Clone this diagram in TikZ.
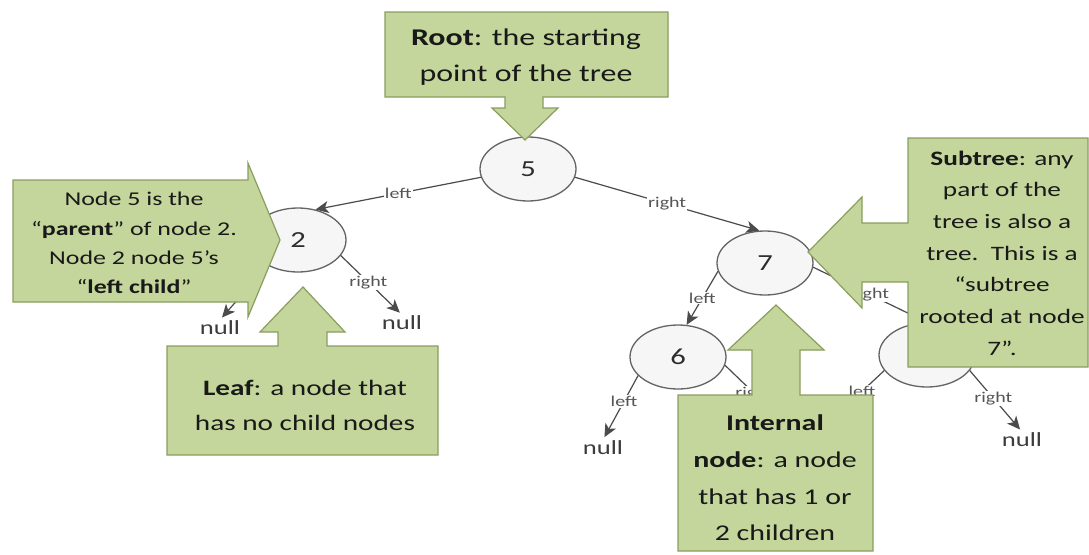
\documentclass[tikz,border=0pt]{standalone}
\usepackage{fontspec}
\setmainfont{Carlito}[FakeStretch=1.33]
\usetikzlibrary{arrows.meta,shapes.geometric}
\definecolor{calfill}{RGB}{196,214,155}
\definecolor{caledge}{RGB}{138,158,96}
\definecolor{edgegray}{RGB}{75,75,75}
\definecolor{nodeedge}{RGB}{100,100,100}
\definecolor{nodefill}{RGB}{246,246,246}
\definecolor{numtext}{RGB}{45,45,45}
\definecolor{nulltextc}{RGB}{60,60,60}
\definecolor{lblc}{RGB}{85,85,85}
\begin{document}
\begin{tikzpicture}[x=1pt,y=-1pt,
  treenode/.style={ellipse, draw=nodeedge, fill=nodefill, line width=1.3pt,
    minimum width=96pt, minimum height=64pt, inner sep=0pt,
    font=\fontsize{23}{26}\selectfont, text=numtext},
  nulltext/.style={font=\fontsize{20}{24}\selectfont, text=nulltextc, inner sep=1pt},
  link/.style={draw=edgegray, line width=1.2pt, -{Stealth[length=13pt,width=12pt,inset=3.5pt]}},
  lbl/.style={font=\fontsize{15}{18}\selectfont, text=lblc, fill=white, inner sep=1pt},
  callout/.style={fill=calfill, draw=caledge, line width=1.2pt, line join=miter},
  calltext/.style={align=center, text=black!90, inner sep=0pt}
]
\useasboundingbox[fill=white] (0,0) rectangle (1089,554);

% ---- tree nodes ----
\node[treenode] (n5) at (528,169) {5};
\node[treenode] (n2) at (298,240) {2};
\node[treenode] (n7) at (765,263) {7};
\node[treenode] (n6) at (678,357) {6};
\node[treenode] (n8) at (927,355) {};

\node[nulltext] (nullA) at (220,328) {null};
\node[nulltext] (nullB) at (402,323) {null};
\node[nulltext] (nullC) at (603,448) {null};
\node[nulltext] (nullD) at (1022,440) {null};
\coordinate (endE) at (790,428);
\coordinate (endF) at (810,440);

% ---- tree links ----
\draw[link] (n5.190) -- node[lbl] {left} (n2.60);
\draw[link] (n5.-10) -- node[lbl] {right} (n7.100);
\draw[link, shorten >=3pt] (n2.220) -- node[lbl] {left} (nullA.north);
\draw[link, shorten >=3pt] (n2.-20) -- node[lbl, pos=0.45] {right} (nullB.north);
\draw[link] (n7.190) -- node[lbl] {left} (n6.75);
\draw[link, shorten >=3pt] (n6.205) -- node[lbl, pos=0.4] {left} (nullC.north);
\draw[link] (n6.-10) -- node[lbl, pos=0.45] {right} (endE);
\draw[link] (n7.-5) -- node[lbl] {right} (n8.north);
\draw[link] (n8.200) -- node[lbl, pos=0.3] {left} (endF);
\draw[link, shorten >=3pt] (n8.-20) -- node[lbl, pos=0.45] {right} (nullD.north);

% ---- callouts ----
% root: arrow pointing down
\draw[callout] (385,12) -- (668,12) -- (668,97) -- (543,97) -- (543,108) -- (558,108)
  -- (525,140) -- (492,108) -- (505,108) -- (505,97) -- (385,97) -- cycle;
\node[calltext, font=\fontsize{24}{36}\selectfont] (rootText) at (526,57)
  {\textbf{Root}: the starting\\point of the tree};

% parent: arrow pointing right
\draw[callout] (13,180) -- (248,180) -- (248,163) -- (280,240) -- (248,317)
  -- (248,302) -- (13,302) -- cycle;
\node[calltext, font=\fontsize{19.5}{29.3}\selectfont] (parentText) at (134,243)
  {Node 5 is the\\“\textbf{parent}” of node 2.\\Node 2 node 5’s\\“\textbf{left child}”};

% leaf: arrow pointing up
\draw[callout] (167,346) -- (278,346) -- (278,332) -- (260,332) -- (303,287)
  -- (345,332) -- (327,332) -- (327,346) -- (438,346) -- (438,455) -- (167,455) -- cycle;
\node[calltext, font=\fontsize{22}{35}\selectfont] (leafText) at (305,405)
  {\textbf{Leaf}: a node that\\has no child nodes};

% subtree: arrow pointing left
\draw[callout] (908,138) -- (1088,138) -- (1088,367) -- (908,367) -- (908,282)
  -- (862,282) -- (862,308) -- (808,252) -- (862,197) -- (862,223) -- (908,223) -- cycle;
\node[calltext, font=\fontsize{20.5}{31.7}\selectfont] (subText) at (1002,253)
  {\textbf{Subtree}: any\\part of the\\tree is also a\\tree.\ \ This is a\\“subtree\\rooted at node\\7”.};

% internal node: arrow pointing up
\draw[callout] (678,395) -- (752,395) -- (752,350) -- (728,350) -- (776,305)
  -- (824,350) -- (800,350) -- (800,395) -- (873,395) -- (873,551) -- (678,551) -- cycle;
\node[calltext, font=\fontsize{22.5}{36.7}\selectfont] (intText) at (775,478)
  {\textbf{Internal}\\\textbf{node}: a node\\that has 1 or\\2 children};
\end{tikzpicture}
\end{document}
